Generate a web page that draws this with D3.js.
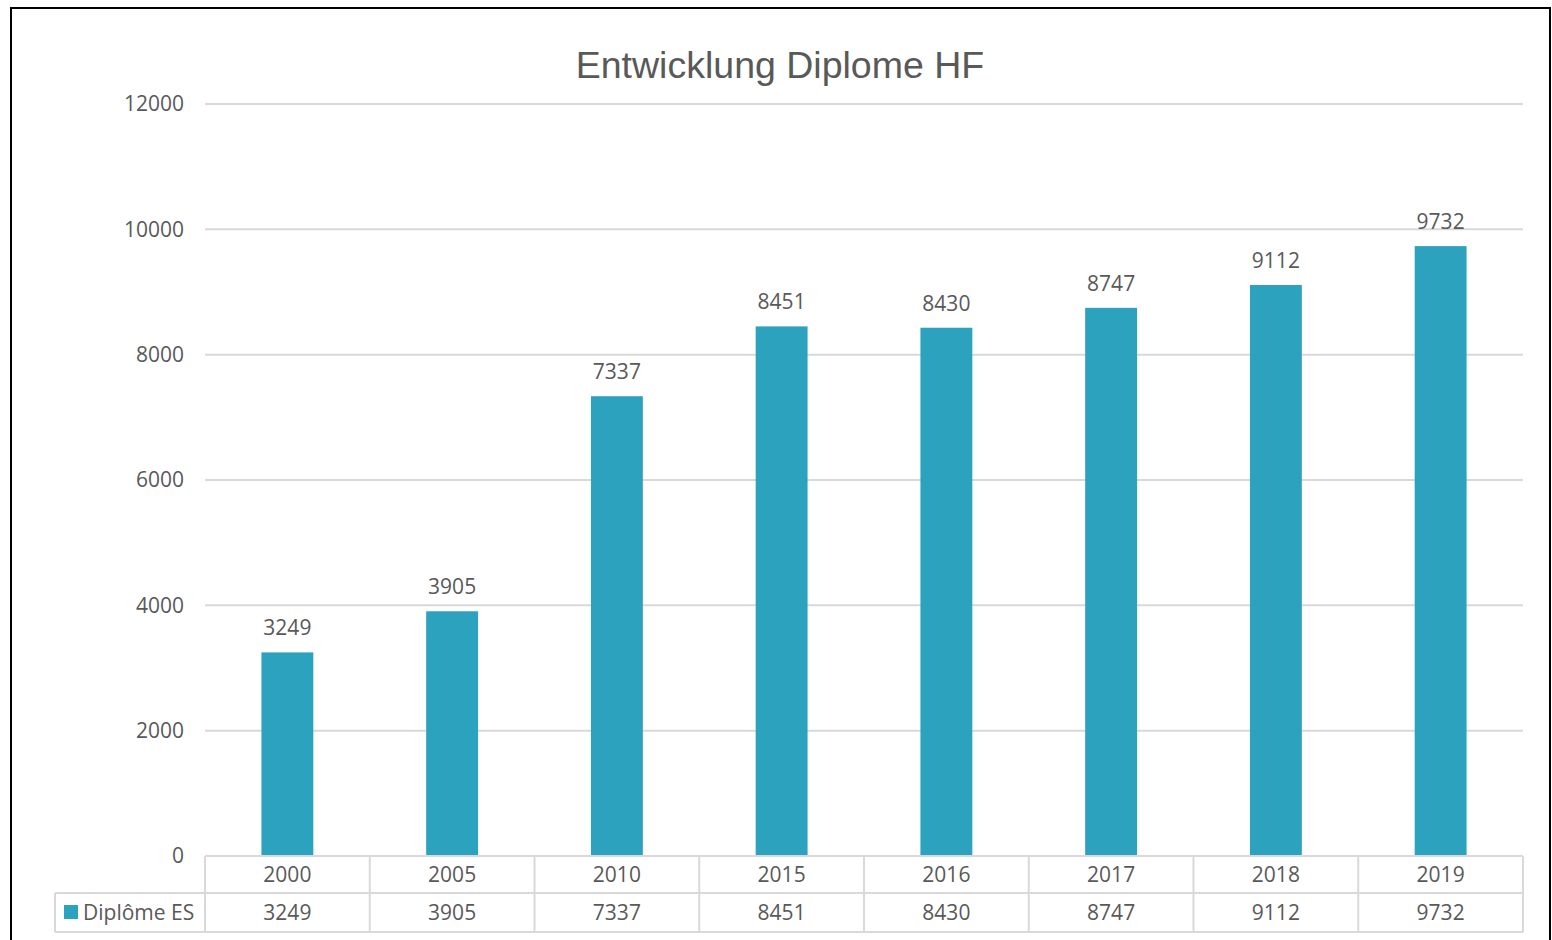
<!DOCTYPE html>
<html>
<head>
<meta charset="utf-8">
<style>
  body { margin: 0; background: #fff; }
  svg { display: block; }
  text { font-family: "Open Sans", sans-serif; fill: #595959; }
</style>
</head>
<body>
<div id="chart-area"></div>
<script src="https://d3js.org/d3.v7.min.js"></script>
<script>
    // data
    var years = ["2000", "2005", "2010", "2015", "2016", "2017", "2018", "2019"];
    var values = [3249, 3905, 7337, 8451, 8430, 8747, 9112, 9732];
    var yTicks = [0, 2000, 4000, 6000, 8000, 10000, 12000];
    var seriesName = "Diplôme ES";
    var chartTitle = "Entwicklung Diplome HF";

    var width = 1552, height = 940;
    var barColor = "#2ca2bf";
    var gridColor = "#d9d9d9";
    var fs = "21px";

    var svg = d3.select("#chart-area")
        .append("svg")
            .attr("width", width)
            .attr("height", height);

    svg.append("rect")
        .attr("width", width).attr("height", height)
        .attr("fill", "#fff");

    // outer frame
    svg.append("rect")
        .attr("x", 11).attr("y", 8)
        .attr("width", 1539).attr("height", 960)
        .attr("fill", "none")
        .attr("stroke", "#000")
        .attr("stroke-width", 2);

    var x = d3.scaleBand()
        .domain(years)
        .range([205, 1523])
        .padding(0);

    var y = d3.scaleLinear()
        .domain([0, 12000])
        .range([856, 104]);

    // title
    svg.append("text")
        .attr("x", 780)
        .attr("y", 78)
        .attr("text-anchor", "middle")
        .style("font-family", "'Liberation Sans', Arial, sans-serif")
        .style("font-size", "37.5px")
        .text(chartTitle);

    // gridlines
    svg.append("g").selectAll("line")
        .data(yTicks.filter(d => d > 0))
        .enter().append("line")
            .attr("x1", 205).attr("x2", 1523)
            .attr("y1", d => y(d)).attr("y2", d => y(d))
            .attr("stroke", gridColor)
            .attr("stroke-width", 2);

    // y labels
    svg.append("g").selectAll("text")
        .data(yTicks)
        .enter().append("text")
            .attr("x", 184)
            .attr("y", d => y(d))
            .attr("dy", "0.35em")
            .attr("text-anchor", "end")
            .style("font-size", fs)
            .text(d => d);

    // bars
    var barW = x.bandwidth() * 0.315;
    var data = years.map((yr, i) => ({year: yr, value: values[i]}));

    svg.append("g").selectAll("rect")
        .data(data)
        .enter().append("rect")
            .attr("x", d => x(d.year) + (x.bandwidth() - barW) / 2)
            .attr("y", d => y(d.value))
            .attr("width", barW)
            .attr("height", d => y(0) - y(d.value))
            .attr("fill", barColor);

    // value labels
    svg.append("g").selectAll("text")
        .data(data)
        .enter().append("text")
            .attr("x", d => x(d.year) + x.bandwidth() / 2)
            .attr("y", d => y(d.value) - 17)
            .attr("text-anchor", "middle")
            .style("font-size", fs)
            .text(d => d.value);

    // data table
    var rowTop = 856, rowMid = 893, rowBot = 932, legendLeft = 55;
    var table = svg.append("g")
        .attr("stroke", gridColor)
        .attr("stroke-width", 2)
        .attr("fill", "none");

    table.append("line").attr("x1", 205).attr("x2", 1523).attr("y1", rowTop).attr("y2", rowTop);
    table.append("line").attr("x1", legendLeft).attr("x2", 1523).attr("y1", rowMid).attr("y2", rowMid);
    table.append("line").attr("x1", legendLeft).attr("x2", 1523).attr("y1", rowBot).attr("y2", rowBot);
    table.append("line").attr("x1", legendLeft).attr("x2", legendLeft).attr("y1", rowMid).attr("y2", rowBot);

    table.selectAll("line.v")
        .data(years.map(d => x(d)).concat([x.range()[1]]))
        .enter().append("line")
            .attr("class", "v")
            .attr("x1", d => d).attr("x2", d => d)
            .attr("y1", rowTop).attr("y2", rowBot);

    svg.append("g").selectAll("text")
        .data(years)
        .enter().append("text")
            .attr("x", d => x(d) + x.bandwidth() / 2)
            .attr("y", (rowTop + rowMid) / 2)
            .attr("dy", "0.35em")
            .attr("text-anchor", "middle")
            .style("font-size", fs)
            .text(d => d);

    svg.append("g").selectAll("text")
        .data(data)
        .enter().append("text")
            .attr("x", d => x(d.year) + x.bandwidth() / 2)
            .attr("y", (rowMid + rowBot) / 2)
            .attr("dy", "0.35em")
            .attr("text-anchor", "middle")
            .style("font-size", fs)
            .text(d => d.value);

    // legend key
    svg.append("rect")
        .attr("x", 64).attr("y", 905)
        .attr("width", 14).attr("height", 14)
        .attr("fill", barColor);
    svg.append("text")
        .attr("x", 83)
        .attr("y", (rowMid + rowBot) / 2)
        .attr("dy", "0.35em")
        .style("font-size", fs)
        .text(seriesName);
</script>
</body>
</html>
